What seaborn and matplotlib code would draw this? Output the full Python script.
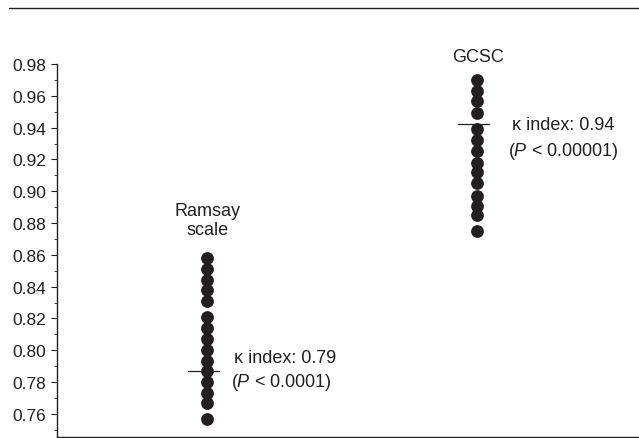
import numpy as np
import pandas as pd
import matplotlib
matplotlib.use('Agg')
import matplotlib.pyplot as plt
from matplotlib.lines import Line2D
from matplotlib.ticker import MultipleLocator
import seaborn as sns

# data
ramsay = [0.858, 0.851, 0.844, 0.838, 0.831, 0.821, 0.814, 0.807,
          0.800, 0.793, 0.787, 0.780, 0.773, 0.767, 0.757]
gcsc = [0.970, 0.963, 0.957, 0.949, 0.939, 0.932, 0.925, 0.918,
        0.912, 0.905, 0.897, 0.891, 0.885, 0.875]
groups = ['Ramsay\nscale', 'GCSC']
kappa = [0.787, 0.942]
kappa_txt = ['\u03ba index: 0.79', '\u03ba index: 0.94']
p_txt = ['0.0001', '0.00001']

df = pd.DataFrame({
    'group': [groups[0]] * len(ramsay) + [groups[1]] * len(gcsc),
    'value': ramsay + gcsc,
})

sns.set_style('white')
plt.rcParams['font.family'] = ['Liberation Sans', 'DejaVu Sans']
plt.rcParams['mathtext.fontset'] = 'custom'
plt.rcParams['mathtext.rm'] = 'Liberation Sans'
plt.rcParams['mathtext.it'] = 'Liberation Sans:italic'
ink = '#231f20'

fig = plt.figure(figsize=(6.39, 4.39), dpi=100)
ax = fig.add_axes([57 / 639, 1 / 439, 1 - 57 / 639, (438 - 65) / 439])

sns.stripplot(data=df, x='group', y='value', order=groups, jitter=False,
              color=ink, size=9.2, linewidth=0, ax=ax)

ylo = 0.98 - (438 - 65) * 0.02 / 31.8
ax.set_ylim(ylo, 0.98)
ax.set_xlim(-0.556, 1.6)

# kappa marks and labels  (x offset, kappa-text baseline, P-text baseline)
layout = [(0.10, 0.7926, 0.7775), (0.128, 0.9391, 0.9227)]
for i, k in enumerate(kappa):
    dx, yk, yp = layout[i]
    ax.plot([i - 0.07, i + 0.045], [k, k], color=ink, lw=0.9, zorder=3)
    ax.text(i + dx, yk, kappa_txt[i], fontsize=13, color=ink, va='baseline')
    ax.text(i + dx - 0.012, yp, '($\\it{P}$ < ' + p_txt[i] + ')',
            fontsize=13, color=ink, va='baseline')
# group names
ax.text(0, 0.873, groups[0], ha='center', va='baseline', fontsize=13,
        color=ink, linespacing=1.2)
ax.text(1.005, 0.9819, groups[1], ha='center', va='baseline', fontsize=13,
        color=ink, clip_on=False)

ax.set_xlabel('')
ax.set_ylabel('')
ax.set_xticks([])
ax.yaxis.set_minor_locator(MultipleLocator(0.01))
ticks = np.round(np.arange(0.76, 0.981, 0.02), 2)
ax.set_yticks(ticks)
ax.set_yticklabels(['%.2f' % v for v in ticks])
ax.tick_params(axis='y', which='major', length=4.5, width=0.8, color=ink,
               labelsize=12.5, labelcolor=ink, pad=3.5, left=True)
ax.tick_params(axis='y', which='minor', length=2, width=0.6, color=ink,
               left=True)
sns.despine(ax=ax, top=True, right=True)
for s in ['left', 'bottom']:
    ax.spines[s].set_color(ink)
    ax.spines[s].set_linewidth(1.0)

fig.add_artist(Line2D([9 / 639, 1], [1 - 9 / 439, 1 - 9 / 439],
                      color=ink, lw=1.0, transform=fig.transFigure))

fig.savefig('out.png', dpi=100)
